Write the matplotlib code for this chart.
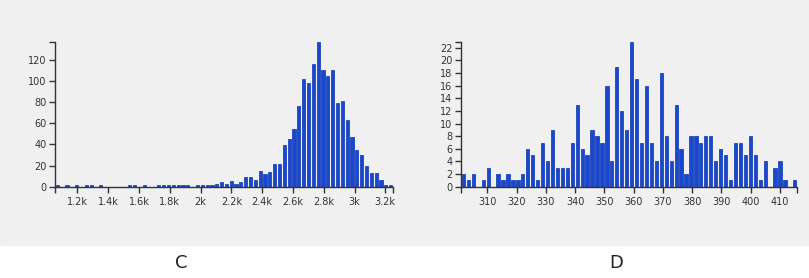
import numpy as np
import matplotlib
matplotlib.use("Agg")
import matplotlib.pyplot as plt

# ── data ─────────────────────────────────────────────────────────────────────
c_range = (1055, 3250)
c_counts = [2, 0, 2, 0, 2, 0, 2, 2, 0, 2, 0, 0, 0, 0, 0, 2, 2, 0, 2, 0,
            0, 2, 2, 2, 2, 2, 2, 2, 0, 2, 2, 2, 2, 3, 4, 3, 5, 3, 4, 9,
            9, 6, 15, 12, 14, 21, 21, 39, 45, 54, 76, 102, 98, 116, 137, 110, 104, 110, 79, 81,
            63, 47, 35, 30, 20, 13, 13, 6, 2, 2]
c_ticks = [1200, 1400, 1600, 1800, 2000, 2200, 2400, 2600, 2800, 3000, 3200]
c_tick_labels = ["1.2k", "1.4k", "1.6k", "1.8k", "2k", "2.2k", "2.4k",
                 "2.6k", "2.8k", "3k", "3.2k"]
c_yticks = [0, 20, 40, 60, 80, 100, 120]

d_range = (301, 416)
d_counts = [2, 1, 2, 0, 1, 3, 0, 2, 1, 2, 1, 1, 2, 6, 5, 1, 7, 4, 9, 3,
            3, 3, 7, 13, 6, 5, 9, 8, 7, 16, 4, 19, 12, 9, 23, 17, 7, 16, 7, 4,
            18, 8, 4, 13, 6, 2, 8, 8, 7, 8, 8, 4, 6, 5, 1, 7, 7, 5, 8, 5,
            1, 4, 0, 3, 4, 1, 0, 1]
d_ticks = [310, 320, 330, 340, 350, 360, 370, 380, 390, 400, 410]
d_yticks = [0, 2, 4, 6, 8, 10, 12, 14, 16, 18, 20, 22]

BAR_COLOR = "#1848cf"
BAR_EDGE = "#0b33b0"
AXIS_COLOR = "#333333"
PANEL_BG = "#f0f0f0"

W, H = 809, 278


def draw_hist(ax, counts, rng, ticks, tick_labels, yticks):
    edges = np.linspace(rng[0], rng[1], len(counts) + 1)
    centers = (edges[:-1] + edges[1:]) / 2
    ax.hist(centers, bins=edges, weights=counts, rwidth=0.66,
            color=BAR_COLOR, edgecolor=BAR_EDGE, linewidth=0.5)
    ax.set_xlim(*rng)
    ax.set_ylim(0, max(counts))
    ax.set_facecolor("none")
    for side in ("top", "right"):
        ax.spines[side].set_visible(False)
    for side in ("left", "bottom"):
        ax.spines[side].set_color(AXIS_COLOR)
        ax.spines[side].set_linewidth(1.0)
    ax.set_xticks(ticks)
    ax.set_xticklabels(tick_labels)
    ax.set_yticks(yticks)
    # outer ticks at the ends of the domain, d3 style
    ax.set_xticks(list(rng), minor=True)
    ax.set_yticks([max(counts)], minor=True)
    ax.tick_params(which="both", length=4.5, width=1.0, color=AXIS_COLOR,
                   labelsize=7, labelcolor="#333333")
    ax.tick_params(axis="x", pad=3)
    ax.tick_params(axis="y", pad=1.5)


fig = plt.figure(figsize=(W / 100, H / 100), dpi=100)
fig.patch.set_facecolor("white")
fig.add_artist(plt.Rectangle((0, 1 - 245 / H), 1, 245 / H,
                             transform=fig.transFigure, color=PANEL_BG, zorder=0))

bottom = 1 - 186.7 / H
top = 1 - 41.5 / H
ax_c = fig.add_axes([55 / W, bottom, (393 - 55) / W, top - bottom])
ax_d = fig.add_axes([461 / W, bottom, (797.3 - 461) / W, top - bottom])

draw_hist(ax_c, c_counts, c_range, c_ticks, c_tick_labels, c_yticks)
draw_hist(ax_d, d_counts, d_range, d_ticks, [str(t) for t in d_ticks], d_yticks)

label_font = ["Liberation Sans Narrow", "DejaVu Sans"]
fig.text(181 / W, 1 - 263 / H, "C", ha="center", va="center",
         fontsize=13, family=label_font, color="#222222")
fig.text(616 / W, 1 - 263 / H, "D", ha="center", va="center",
         fontsize=13, family=label_font, color="#222222")

fig.savefig("out.png", dpi=100, facecolor=fig.get_facecolor())
